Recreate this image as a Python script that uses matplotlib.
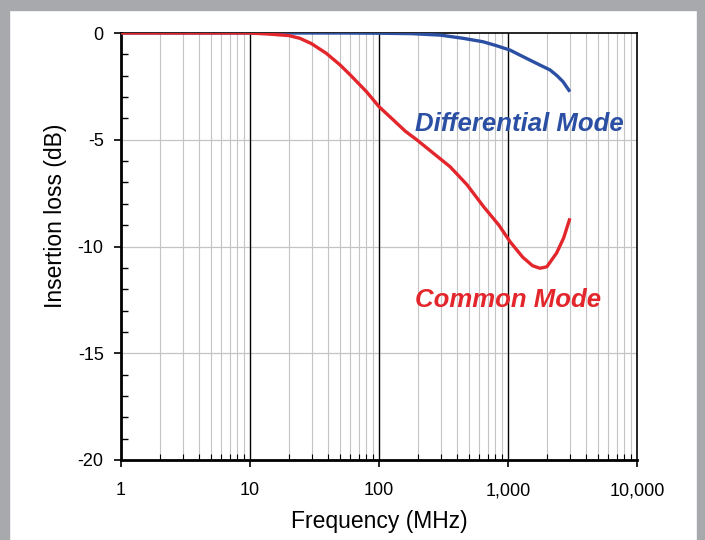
import numpy as np
import matplotlib
matplotlib.use("Agg")
import matplotlib.pyplot as plt
from matplotlib.patches import Rectangle
from matplotlib.ticker import FixedLocator, FixedFormatter, LogLocator, NullFormatter, MultipleLocator

plt.rcParams['font.family'] = ['Liberation Sans', 'DejaVu Sans']
plt.rcParams['axes.unicode_minus'] = False

# differential mode insertion loss
diff_freq = [1, 10, 50, 100, 180, 300, 450, 640, 800, 1036, 1300, 1700, 2117, 2400, 2670, 3020]
diff_db = [0, 0, 0, -0.01, -0.03, -0.1, -0.25, -0.41, -0.58, -0.8, -1.1, -1.45, -1.73, -2.0, -2.28, -2.75]

# common mode insertion loss
cm_freq = [1, 10, 14, 20, 24.4, 30, 39, 50, 60, 80, 100, 129, 160, 196, 260, 355,
           480, 646, 850, 1036, 1300, 1550, 1770, 2000, 2384, 2700, 3020]
cm_db = [0, 0, -0.05, -0.12, -0.25, -0.5, -0.95, -1.5, -1.97, -2.75, -3.45, -4.07,
         -4.6, -5.0, -5.6, -6.26, -7.1, -8.13, -9.0, -9.77, -10.5, -10.9, -11.02,
         -10.95, -10.3, -9.6, -8.68]

x_ticks = [1, 10, 100, 1000, 10000]
x_labels = ["1", "10", "100", "1,000", "10,000"]
y_ticks = [0, -5, -10, -15, -20]
y_labels = ["0", "-5", "-10", "-15", "-20"]

blue = "#2b4fa3"
red = "#e3262b"
frame_gray = "#a7a9ac"

fig = plt.figure(figsize=(7.05, 5.4), dpi=100)
W, H = 705, 540

# grey frame around the picture
fig.patches.append(Rectangle((0, 1 - 10 / H), 1, 10 / H, transform=fig.transFigure,
                             color=frame_gray, zorder=0))
fig.patches.append(Rectangle((0, 0), 9 / W, 1, transform=fig.transFigure,
                             color=frame_gray, zorder=0))
fig.patches.append(Rectangle((697 / W, 0), 8 / W, 1, transform=fig.transFigure,
                             color=frame_gray, zorder=0))

ax = fig.add_axes([121 / W, 1 - 460 / H, 516 / W, 427 / H])
ax.set_xscale("log")
ax.set_xlim(1, 10000)
ax.set_ylim(-20, 0)

# grid: minor verticals grey, decade verticals black, horizontals grey
for d in [1, 10, 100, 1000]:
    for m in range(2, 10):
        ax.axvline(d * m, color="#c4c4c4", lw=0.8, zorder=1)
for d in [10, 100, 1000]:
    ax.axvline(d, color="black", lw=1.0, zorder=1.5)
for y in [-5, -10, -15]:
    ax.axhline(y, color="#c4c4c4", lw=0.9, zorder=1)

ax.plot(diff_freq, diff_db, color=blue, lw=2.4, zorder=3, solid_capstyle="butt")
ax.plot(cm_freq, cm_db, color=red, lw=2.4, zorder=3, solid_capstyle="butt")

ax.text(1217, -4.25, "Differential Mode", color=blue, fontsize=18.5,
        fontweight="bold", fontstyle="italic", ha="center", va="center")
ax.text(1000, -12.5, "Common Mode", color=red, fontsize=18.5,
        fontweight="bold", fontstyle="italic", ha="center", va="center")

ax.xaxis.set_major_locator(FixedLocator(x_ticks))
ax.xaxis.set_major_formatter(FixedFormatter(x_labels))
ax.xaxis.set_minor_locator(LogLocator(base=10, subs=range(2, 10)))
ax.xaxis.set_minor_formatter(NullFormatter())
ax.yaxis.set_major_locator(FixedLocator(y_ticks))
ax.yaxis.set_major_formatter(FixedFormatter(y_labels))
ax.yaxis.set_minor_locator(MultipleLocator(1))

ax.tick_params(which="major", direction="out", length=5, width=1.2, labelsize=13,
               colors="black")
ax.tick_params(axis="x", which="major", pad=11)
ax.tick_params(axis="y", which="major", pad=7.5)
ax.tick_params(axis="x", which="minor", direction="in", length=4, width=0.8)
ax.tick_params(axis="y", which="minor", direction="in", length=5, width=1.0)

for side in ["left", "bottom"]:
    ax.spines[side].set_linewidth(2.0)
for side in ["top", "right"]:
    ax.spines[side].set_linewidth(1.2)

ax.set_xlabel("Frequency (MHz)", fontsize=16.5, labelpad=7.5)
ax.set_ylabel("Insertion loss (dB)", fontsize=16.5)
ax.yaxis.set_label_coords(-0.105, 0.571)

fig.savefig("out.png", dpi=100)
